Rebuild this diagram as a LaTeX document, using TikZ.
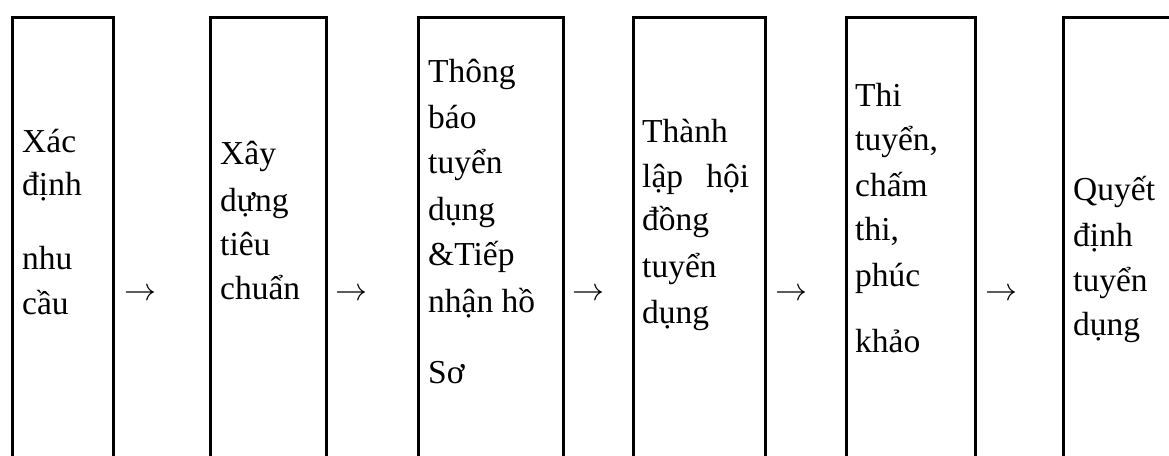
\documentclass[tikz,border=0pt]{standalone}
\usepackage{graphicx}
\usepackage{fontspec}
\setmainfont{Liberation Serif}
\begin{document}
\begin{tikzpicture}[x=1pt,y=-1pt,
  box/.style={draw,line width=3pt,inner sep=0pt,minimum height=464pt,anchor=north west},
  lbl/.style={anchor=base west,inner sep=0pt,font=\fontsize{33.5}{40}\selectfont},
  arr/.style={anchor=center,inner sep=0pt}]
\newcommand\myarrow{\resizebox{32pt}{!}{$\rightarrow$}}
\useasboundingbox (0,0) rectangle (1169,455);
\clip (0,0) rectangle (1169,455);
% boxes
\node[box,minimum width=101pt] (b1) at (11,16) {};
\node[box,minimum width=116pt] (b2) at (209,16) {};
\node[box,minimum width=145pt] (b3) at (417,16) {};
\node[box,minimum width=131.5pt] (b4) at (632,16) {};
\node[box,minimum width=128.5pt] (b5) at (845,16) {};
\node[box,minimum width=160pt] (b6) at (1061.5,16) {};
% box 1
\foreach \y/\t [count=\i] in {152/Xác,195/định,269/nhu,314/cầu}
  \node[lbl] (t1-\i) at (22,\y) {\t};
% box 2
\foreach \y/\t [count=\i] in {164/Xây,211/dựng,255/tiêu,299/chuẩn}
  \node[lbl] (t2-\i) at (220,\y) {\t};
% box 3
\foreach \y/\t [count=\i] in {82/Thông,128/báo,173/tuyển,220/dụng,265/\&Tiếp,312/nhận hồ,383/Sơ}
  \node[lbl] (t3-\i) at (428,\y) {\t};
% box 4
\foreach \y/\t [count=\i] in {142/Thành,187/{\hbox to 107pt{lập\hfill hội}},230/đồng,277/tuyển,323/dụng}
  \node[lbl] (t4-\i) at (642,\y) {\t};
% box 5
\foreach \y/\t [count=\i] in {106/Thi,150/{tuyển,},196/chấm,240/{thi,},286/phúc,352/khảo}
  \node[lbl] (t5-\i) at (855,\y) {\t};
% box 6
\foreach \y/\t [count=\i] in {200/Quyết,246/định,291/tuyển,335/dụng}
  \node[lbl] (t6-\i) at (1073,\y) {\t};
% arrows
\node[arr] (a1) at (140,295) {\myarrow};
\node[arr] (a2) at (351.5,295) {\myarrow};
\node[arr] (a3) at (588.5,295) {\myarrow};
\node[arr] (a4) at (791,295) {\myarrow};
\node[arr] (a5) at (1001,295) {\myarrow};
\end{tikzpicture}
\end{document}
